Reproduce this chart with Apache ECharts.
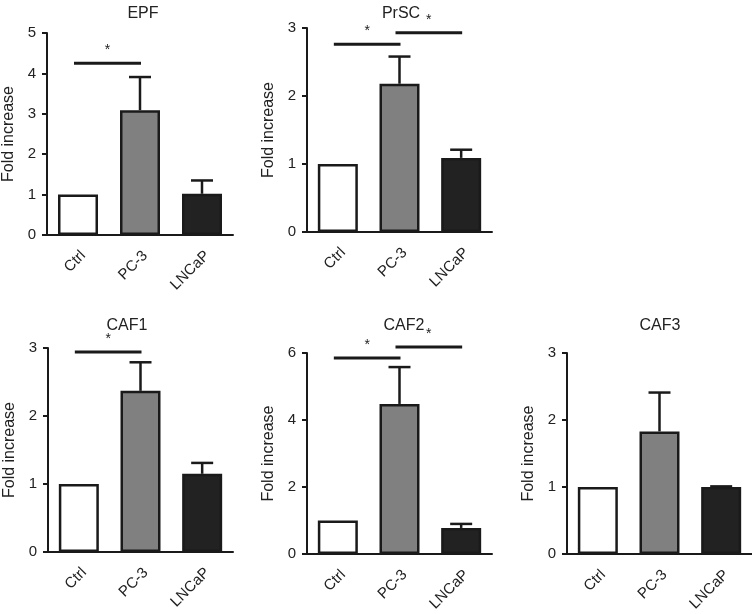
<!DOCTYPE html>
<html><head><meta charset="utf-8">
<script src="https://cdn.jsdelivr.net/npm/echarts@6/dist/echarts.min.js"></script>
<style>html,body{margin:0;padding:0;background:#fff}#c{width:752px;height:614px}</style>
</head><body><div id="c"></div>
<script>
// ---- data ----
const categories = ['Ctrl', 'PC-3', 'LNCaP'];
const panelTitles = ['EPF', 'PrSC', 'CAF1', 'CAF2', 'CAF3'];
const epfMean = [1.0, 3.09, 1.02];
const epfUpper = [null, 3.91, 1.35];
const prscMean = [1.0, 2.18, 1.09];
const prscUpper = [null, 2.58, 1.21];
const caf1Mean = [1.0, 2.37, 1.15];
const caf1Upper = [null, 2.79, 1.31];
const caf2Mean = [1.0, 4.48, 0.78];
const caf2Upper = [null, 5.58, 0.90];
const caf3Mean = [1.0, 1.83, 1.0];
const caf3Upper = [null, 2.41, 1.01];
const yMax = [5, 3, 3, 6, 3];
const yInterval = [1, 1, 1, 2, 1];
// significance brackets: [fromIndex, toIndex, yValue]
const epfSig = [[0, 1, 4.25]];
const prscSig = [[0, 1, 2.76], [1, 2, 2.93]];
const caf1Sig = [[0, 1, 2.94]];
const caf2Sig = [[0, 1, 5.85], [1, 2, 6.18]];
const caf3Sig = [];

const means = [epfMean, prscMean, caf1Mean, caf2Mean, caf3Mean];
const uppers = [epfUpper, prscUpper, caf1Upper, caf2Upper, caf3Upper];
const sigs = [epfSig, prscSig, caf1Sig, caf2Sig, caf3Sig];

// ---- layout / style ----
const grids = [
  {left: 47, top: 33, width: 186, height: 202},
  {left: 307, top: 28, width: 185, height: 204},
  {left: 48, top: 348, width: 185, height: 204},
  {left: 307, top: 353, width: 185, height: 202},
  {left: 567, top: 353, width: 185, height: 202}
];
const titlePos = [[138, 1], [396, 1], [122, 313], [399, 313], [655, 313]];
const barColors = ['#ffffff', '#808080', '#222222'];
const ink = '#1a1a1a';
const textColor = '#222';
const font = 'Liberation Sans, Arial, Helvetica, sans-serif';

const option = {
  animation: false,
  backgroundColor: '#fff',
  title: panelTitles.map((t, i) => ({
    text: t, left: titlePos[i][0], top: titlePos[i][1], textAlign: 'center',
    textStyle: {fontSize: 16, fontWeight: 'normal', color: textColor, fontFamily: font}
  })),
  grid: grids,
  xAxis: grids.map((g, i) => ({
    type: 'category', gridIndex: i, data: categories,
    axisLine: {lineStyle: {color: ink, width: 2}},
    axisTick: {alignWithLabel: true, length: 5, lineStyle: {color: ink, width: 2}},
    axisLabel: {rotate: 45, fontSize: 15, color: textColor, fontFamily: font, margin: 13,
      interval: 0, verticalAlign: 'top'}
  })),
  yAxis: grids.map((g, i) => ({
    type: 'value', gridIndex: i, min: 0, max: yMax[i], interval: yInterval[i],
    name: 'Fold increase', nameLocation: 'middle', nameGap: 30,
    nameTextStyle: {fontSize: 16, color: textColor, fontFamily: font},
    splitLine: {show: false},
    axisLine: {show: true, lineStyle: {color: ink, width: 2}},
    axisTick: {show: true, length: 5, lineStyle: {color: ink, width: 2}},
    axisLabel: {fontSize: 15, color: textColor, fontFamily: font, margin: 11}
  })),
  series: []
};

means.forEach((m, i) => {
  option.series.push({
    type: 'bar', xAxisIndex: i, yAxisIndex: i, barWidth: 40, z: 2,
    data: m.map((v, k) => ({value: v, itemStyle: {color: barColors[k], borderColor: ink, borderWidth: 2.5}}))
  });
  option.series.push({
    type: 'custom', xAxisIndex: i, yAxisIndex: i, z: 3,
    data: m.map((v, k) => [k, v, uppers[i][k] == null ? v : uppers[i][k]]).filter((d, k) => uppers[i][k] != null),
    renderItem: function (params, api) {
      const base = api.coord([api.value(0), api.value(1)]);
      const top = api.coord([api.value(0), api.value(2)]);
      const st = {stroke: ink, lineWidth: 2.5};
      return {type: 'group', children: [
        {type: 'line', shape: {x1: base[0], y1: base[1], x2: top[0], y2: top[1]}, style: st},
        {type: 'line', shape: {x1: top[0] - 11, y1: top[1], x2: top[0] + 11, y2: top[1]}, style: st}
      ]};
    }
  });
  if (sigs[i].length) {
    option.series.push({
      type: 'custom', xAxisIndex: i, yAxisIndex: i, z: 4,
      data: sigs[i],
      renderItem: function (params, api) {
        const a = api.coord([api.value(0), api.value(2)]);
        const b = api.coord([api.value(1), api.value(2)]);
        const x1 = a[0] - 4, x2 = b[0] + 1;
        return {type: 'group', children: [
          {type: 'line', shape: {x1: x1, y1: a[1], x2: x2, y2: a[1]}, style: {stroke: ink, lineWidth: 3}},
          {type: 'text', x: (x1 + x2) / 2, y: a[1] - 6, style: {text: '*', fontSize: 14, fill: textColor, fontFamily: font, align: 'center', verticalAlign: 'bottom'}}
        ]};
      }
    });
  }
});

const chart = echarts.init(document.getElementById('c'), null, {renderer: 'canvas'});
chart.setOption(option);
</script></body></html>
